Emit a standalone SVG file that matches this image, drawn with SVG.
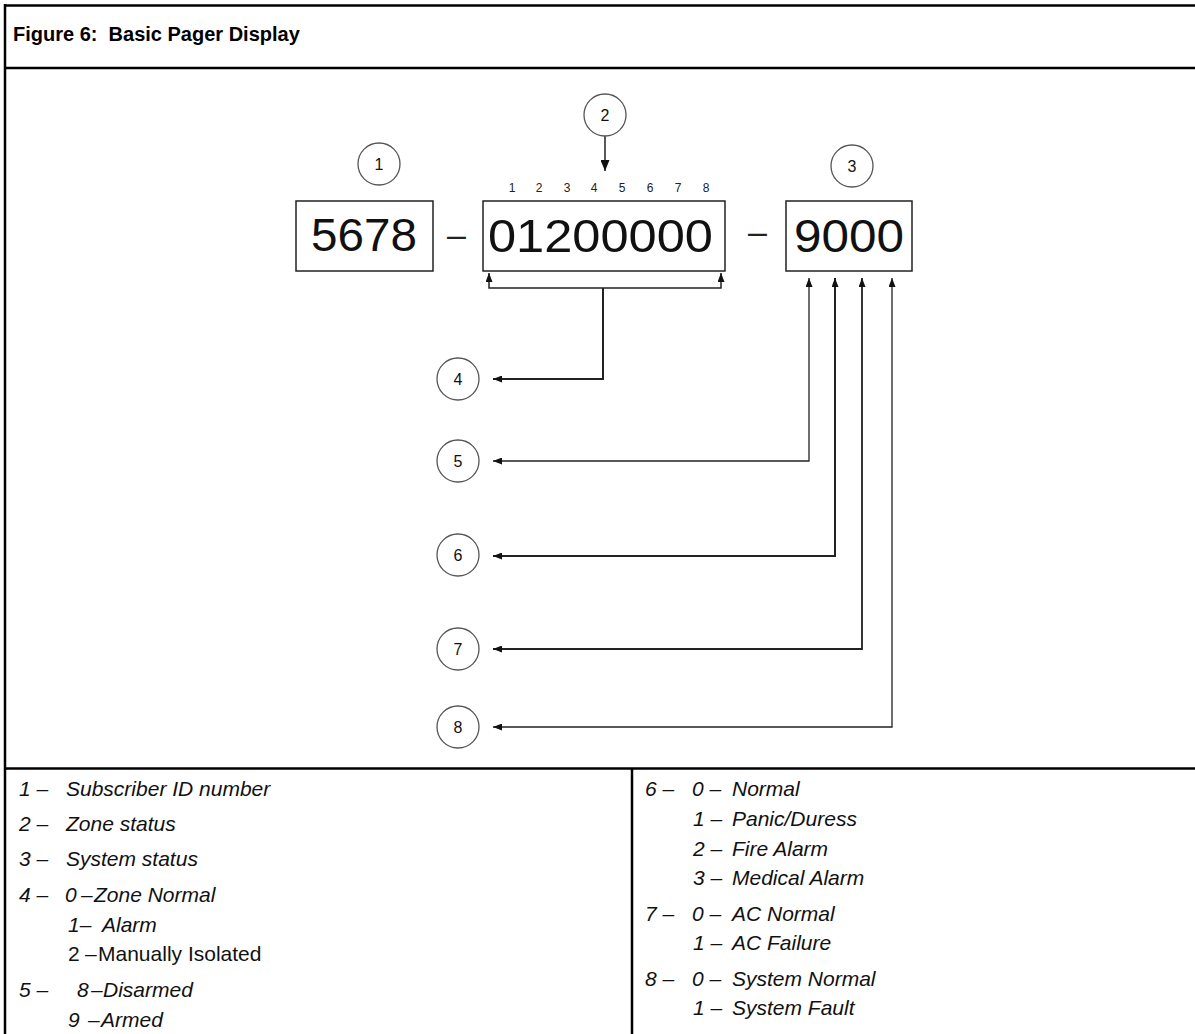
<svg xmlns="http://www.w3.org/2000/svg" width="1195" height="1034" viewBox="0 0 1195 1034">
<style>
.frame{stroke:#000;stroke-width:2.5;fill:none}
.box{fill:#fff;stroke:#222;stroke-width:1.5}
.big{font-family:"Liberation Sans",Arial,sans-serif;font-size:46px;fill:#111}
.dash{font-family:"Liberation Sans",Arial,sans-serif;font-size:34px;fill:#222}
.circ{fill:#fff;stroke:#555;stroke-width:1.3}
.cnum{font-family:"Liberation Sans",Arial,sans-serif;font-size:16px;fill:#111;text-anchor:middle}
.small{font-family:"Liberation Sans",Arial,sans-serif;font-size:12px;fill:#222;text-anchor:middle}
.leg{font-family:"Liberation Sans",Arial,sans-serif;font-size:21px;font-style:italic;fill:#111}
.legn{font-family:"Liberation Sans",Arial,sans-serif;font-size:21px;fill:#111}
.title{font-family:"Liberation Sans",Arial,sans-serif;font-size:20px;font-weight:bold;fill:#000}
.conn{fill:none;stroke:#222}
</style>
<defs>
<marker id="ah" markerUnits="userSpaceOnUse" markerWidth="9" markerHeight="7" refX="9" refY="3.5" orient="auto-start-reverse">
<path d="M0,0 L9,3.5 L0,7 z" fill="#111"/>
</marker>
<marker id="ahb" markerUnits="userSpaceOnUse" markerWidth="11" markerHeight="9" refX="11" refY="4.5" orient="auto-start-reverse">
<path d="M0,0 L11,4.5 L0,9 z" fill="#111"/>
</marker>
</defs>
<rect width="1195" height="1034" fill="#fff"/>
<g id="frame">
<line class="frame" x1="4" y1="5.5" x2="1195" y2="5.5"/>
<line class="frame" x1="4" y1="68" x2="1195" y2="68"/>
<line class="frame" x1="5" y1="4" x2="5" y2="1034"/>
<line class="frame" x1="4" y1="768.5" x2="1195" y2="768.5"/>
<line class="frame" x1="632" y1="768" x2="632" y2="1034"/>
<text class="title" x="13" y="40.5" xml:space="preserve">Figure 6:  Basic Pager Display</text>
</g>
<g id="connectors">
<path class="conn" stroke-width="1.5" d="M605,136 V171" marker-end="url(#ahb)"/>
<path class="conn" stroke-width="1.5" d="M603,288 H489 V273" marker-end="url(#ah)"/>
<path class="conn" stroke-width="1.5" d="M603,288 H721 V273" marker-end="url(#ah)"/>
<path class="conn" stroke-width="2" d="M603,288 V379 H493" marker-end="url(#ah)"/>
<path class="conn" stroke-width="1.3" d="M809,278 V461 H493" marker-start="url(#ah)" marker-end="url(#ah)"/>
<path class="conn" stroke-width="2" d="M835,278 V556 H493" marker-start="url(#ah)" marker-end="url(#ah)"/>
<path class="conn" stroke-width="1.8" d="M862,278 V649 H493" marker-start="url(#ah)" marker-end="url(#ah)"/>
<path class="conn" stroke-width="1.3" d="M892,278 V727 H493" marker-start="url(#ah)" marker-end="url(#ah)"/>
</g>
<g id="box-subscriber">
<rect class="box" x="296" y="201" width="137" height="70"/>
<text class="big" x="311" y="251" textLength="106" lengthAdjust="spacingAndGlyphs">5678</text>
</g>
<text class="dash" x="447" y="246">–</text>
<g id="box-zone">
<rect class="box" x="483" y="201" width="242" height="70"/>
<text class="big" x="488" y="252" textLength="225" lengthAdjust="spacingAndGlyphs">01200000</text>
<text class="small" x="512" y="192">1</text>
<text class="small" x="539" y="192">2</text>
<text class="small" x="567" y="192">3</text>
<text class="small" x="594" y="192">4</text>
<text class="small" x="622" y="192">5</text>
<text class="small" x="650" y="192">6</text>
<text class="small" x="678" y="192">7</text>
<text class="small" x="706" y="192">8</text>
</g>
<text class="dash" x="748" y="243">–</text>
<g id="box-system">
<rect class="box" x="786" y="201" width="126" height="70"/>
<text class="big" x="794" y="252" textLength="110" lengthAdjust="spacingAndGlyphs">9000</text>
</g>
<g id="n1"><circle class="circ" cx="379" cy="164" r="21"/><text class="cnum" x="379" y="170">1</text></g>
<g id="n2"><circle class="circ" cx="605" cy="115" r="21"/><text class="cnum" x="605" y="121">2</text></g>
<g id="n3"><circle class="circ" cx="852" cy="166" r="21"/><text class="cnum" x="852" y="172">3</text></g>
<g id="n4"><circle class="circ" cx="458" cy="379" r="21"/><text class="cnum" x="458" y="385">4</text></g>
<g id="n5"><circle class="circ" cx="458" cy="461" r="21"/><text class="cnum" x="458" y="467">5</text></g>
<g id="n6"><circle class="circ" cx="458" cy="555" r="21"/><text class="cnum" x="458" y="561">6</text></g>
<g id="n7"><circle class="circ" cx="458" cy="649" r="21"/><text class="cnum" x="458" y="655">7</text></g>
<g id="n8"><circle class="circ" cx="458" cy="727" r="21"/><text class="cnum" x="458" y="733">8</text></g>
<g id="legend-left">
<text class="leg" y="796"><tspan x="19">1 –</tspan><tspan x="66">Subscriber ID number</tspan></text>
<text class="leg" y="831"><tspan x="19">2 –</tspan><tspan x="66">Zone status</tspan></text>
<text class="leg" y="866"><tspan x="19">3 –</tspan><tspan x="66">System status</tspan></text>
<text class="leg" y="902"><tspan x="19">4 –</tspan><tspan x="65">0</tspan><tspan x="81">–</tspan><tspan x="94">Zone Normal</tspan></text>
<text class="leg" y="932"><tspan x="68">1–</tspan><tspan x="102">Alarm</tspan></text>
<text class="legn" y="961"><tspan x="68">2</tspan><tspan x="85">–</tspan><tspan x="98">Manually Isolated</tspan></text>
<text class="leg" y="997"><tspan x="19">5 –</tspan><tspan x="77">8</tspan><tspan x="91">–</tspan><tspan x="103">Disarmed</tspan></text>
<text class="leg" y="1027"><tspan x="68">9</tspan><tspan x="88">–</tspan><tspan x="101">Armed</tspan></text>
</g>
<g id="legend-right">
<text class="leg" y="796"><tspan x="645">6 –</tspan><tspan x="692">0 –</tspan><tspan x="732">Normal</tspan></text>
<text class="leg" y="826"><tspan x="693">1 –</tspan><tspan x="732">Panic/Duress</tspan></text>
<text class="leg" y="856"><tspan x="693">2 –</tspan><tspan x="732">Fire Alarm</tspan></text>
<text class="leg" y="885"><tspan x="693">3 –</tspan><tspan x="732">Medical Alarm</tspan></text>
<text class="leg" y="921"><tspan x="645">7 –</tspan><tspan x="692">0 –</tspan><tspan x="732">AC Normal</tspan></text>
<text class="leg" y="950"><tspan x="693">1 –</tspan><tspan x="732">AC Failure</tspan></text>
<text class="leg" y="986"><tspan x="645">8 –</tspan><tspan x="692">0 –</tspan><tspan x="732">System Normal</tspan></text>
<text class="leg" y="1015"><tspan x="693">1 –</tspan><tspan x="732">System Fault</tspan></text>
</g>
</svg>
